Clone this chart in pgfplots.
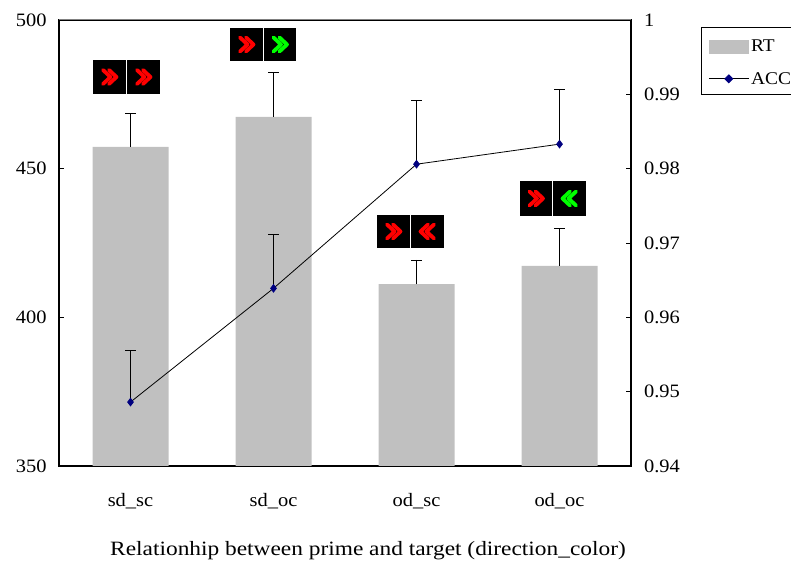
\documentclass[border=0pt]{standalone}
\usepackage{pgfplots}
\pgfplotsset{compat=1.18}
\usepackage{fontspec}
\setmainfont[FakeStretch=1.08]{Liberation Serif}
\newfontfamily\labfont[FakeStretch=1.15]{Liberation Serif}
\definecolor{barg}{RGB}{192,192,192}
\definecolor{accb}{RGB}{0,0,128}
\newcommand{\chev}[4]{%
  \begin{scope}[shift={(#1bp,{562bp-#2bp})},xscale=#4,line width=3.8bp,line cap=round,line join=round,draw=#3]
    \draw (-6.5bp,7bp) -- (1bp,0bp) -- (-6.5bp,-7bp);
    \draw (-0.5bp,7bp) -- (7bp,0bp) -- (-0.5bp,-7bp);
  \end{scope}}
\newcommand{\icon}[6]{%
  \fill[black] (#1bp,{562bp-#5bp}) rectangle (#2bp,{562bp-#6bp});
  \fill[black] (#3bp,{562bp-#5bp}) rectangle (#4bp,{562bp-#6bp});
}
\begin{document}
\begin{tikzpicture}[x=1bp,y=1bp]
\useasboundingbox (0,0) rectangle (791,562);
\begin{axis}[
  at={(59bp,96bp)},anchor=south west,scale only axis,width=572bp,height=446bp,
  xmin=-0.5,xmax=3.5,ymin=350,ymax=500,
  ybar,bar width=76bp,
  axis line style={black,line width=1.1bp},
  xtick={0,1,2,3},xticklabels={sd\_sc,sd\_oc,od\_sc,od\_oc},
  minor xtick={0.5,1.5,2.5},
  x tick label style={yshift=-19bp},
  xtick style={draw=none},
  minor tick length=5bp,
  minor tick style={black,line width=0.8bp},
  ytick={350,400,450,500},
  tick label style={font=\fontsize{19}{21}\selectfont},
  /pgf/number format/assume math mode=true,
  ytick pos=left,ytick align=inside,
  major tick length=5bp,
  ytick style={black,line width=0.8bp},
  y tick label style={xshift=-9bp},
  xlabel={Relationhip between prime and target (direction\_color)},
  xlabel style={font=\labfont\fontsize{20.4}{22}\selectfont,at={(axis description cs:0.5,0)},anchor=base,yshift=-90bp,xshift=23bp},
]
\addplot[fill=barg,draw=none,
  error bars/.cd,y dir=plus,y explicit,
  error bar style={black,line width=0.8bp},
  error mark options={rotate=90,mark size=5.5bp,black,line width=0.8bp}]
 coordinates {(0,457.3) +- (0,11.4) (1,467.4) +- (0,15.1) (2,411.2) +- (0,8.1) (3,417.3) +- (0,12.7)};
\end{axis}
\begin{axis}[
  at={(59bp,96bp)},anchor=south west,scale only axis,width=572bp,height=446bp,
  xmin=-0.5,xmax=3.5,ymin=0.94,ymax=1,
  hide x axis,axis y line*=right,
  axis line style={black,line width=1.1bp,-},
  ytick={0.94,0.95,0.96,0.97,0.98,0.99,1},
  yticklabels={0.94,0.95,0.96,0.97,0.98,0.99,1},
  tick label style={font=\fontsize{19}{21}\selectfont},
  /pgf/number format/assume math mode=true,
  ytick align=inside,major tick length=5bp,
  ytick style={black,line width=0.8bp},
  y tick label style={xshift=9.5bp},
  legend style={at={(1.1224,0.984)},anchor=north west,draw=black,line width=0.8bp,
    font=\fontsize{18}{20}\selectfont,inner xsep=7bp,inner ysep=7bp,
    row sep=15bp,fill=white},
  legend cell align=left,
]
\addlegendimage{legend image code/.code={\path[draw=none,fill=none] (0bp,12bp) -- (0bp,0bp);\fill[barg,draw=none] (0bp,-7bp) rectangle (40bp,7bp);}}
\addlegendentry{RT}
\addplot[black,line width=0.8bp,mark=diamond*,mark size=3.8bp,
  mark options={draw=accb,fill=accb},
  legend image code/.code={\draw[black,line width=0.8bp] (0bp,0bp) -- (40bp,0bp);
    \fill[accb] (20bp,-4bp) -- (24bp,0bp) -- (20bp,4bp) -- (16bp,0bp) -- cycle;},
  error bars/.cd,y dir=plus,y explicit,
  error bar style={black,line width=0.8bp},
  error mark options={rotate=90,mark size=5.5bp,black,line width=0.8bp}]
 coordinates {(0,0.9486) +- (0,0.0070) (1,0.9639) +- (0,0.0073) (2,0.9806) +- (0,0.0086) (3,0.9833) +- (0,0.0073)};
\addlegendentry{ACC}
\end{axis}
\draw[color={rgb,255:red,128;green,128;blue,128},line width=1bp] (59,542) -- (631,542);
\icon{93}{126}{127}{160}{60}{94}
\icon{230}{263}{264}{296}{28}{61}
\icon{377}{410}{411}{444}{215}{248}
\icon{520}{552}{553}{586}{181}{216}
\chev{109.5}{77}{red}{1}
\chev{143.5}{77}{red}{1}
\chev{246.5}{44.5}{red}{1}
\chev{280}{44.5}{green}{1}
\chev{393.5}{231.5}{red}{1}
\chev{427.5}{231.5}{red}{-1}
\chev{536}{198.5}{red}{1}
\chev{569.5}{198.5}{green}{-1}
\end{tikzpicture}
\end{document}
